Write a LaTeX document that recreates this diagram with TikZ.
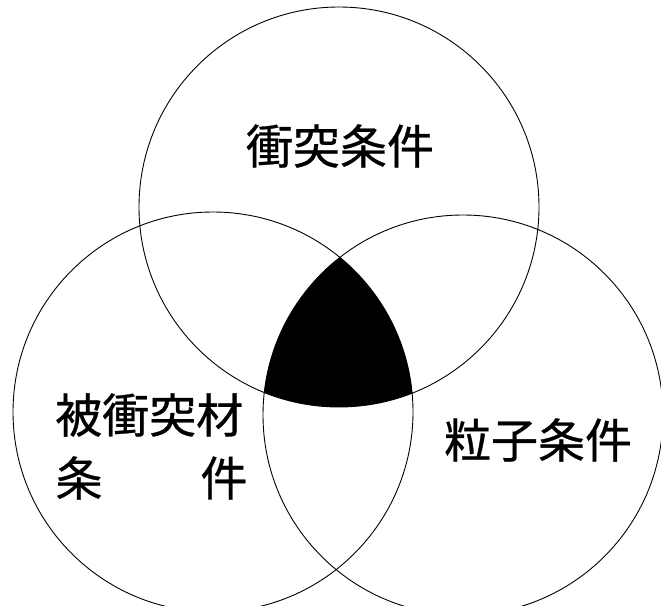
\documentclass[tikz,border=0pt]{standalone}
\usepackage{fontspec}
\newfontfamily\cjk[FakeBold=0.6]{Noto Sans CJK JP}
\begin{document}
\begin{tikzpicture}[x=1pt,y=-1pt,
  ring/.style={draw=black,line width=0.9pt},
  lbl/.style={font=\cjk\fontsize{47}{52}\selectfont,inner sep=0pt,text=black}]
\useasboundingbox[fill=white] (0,0) rectangle (661,605);
\coordinate (ct) at (339,207);
\coordinate (cl) at (213,412);
\coordinate (cr) at (463,415);
\begin{scope}
  \clip (ct) circle[radius=200];
  \clip (cl) circle[radius=200];
  \fill[black] (cr) circle[radius=200];
\end{scope}
\draw[ring] (ct) circle[radius=200];
\draw[ring] (cl) circle[radius=200];
\draw[ring] (cr) circle[radius=200];
\node[lbl] (t1) at (340,146) {衝突条件};
\node[lbl,anchor=west] (t2) at (55,415) {被衝突材};
\node[lbl] (t3) at (79,478) {条};
\node[lbl] (t4) at (224,478) {件};
\node[lbl] (t5) at (538,440) {粒子条件};
\end{tikzpicture}
\end{document}
